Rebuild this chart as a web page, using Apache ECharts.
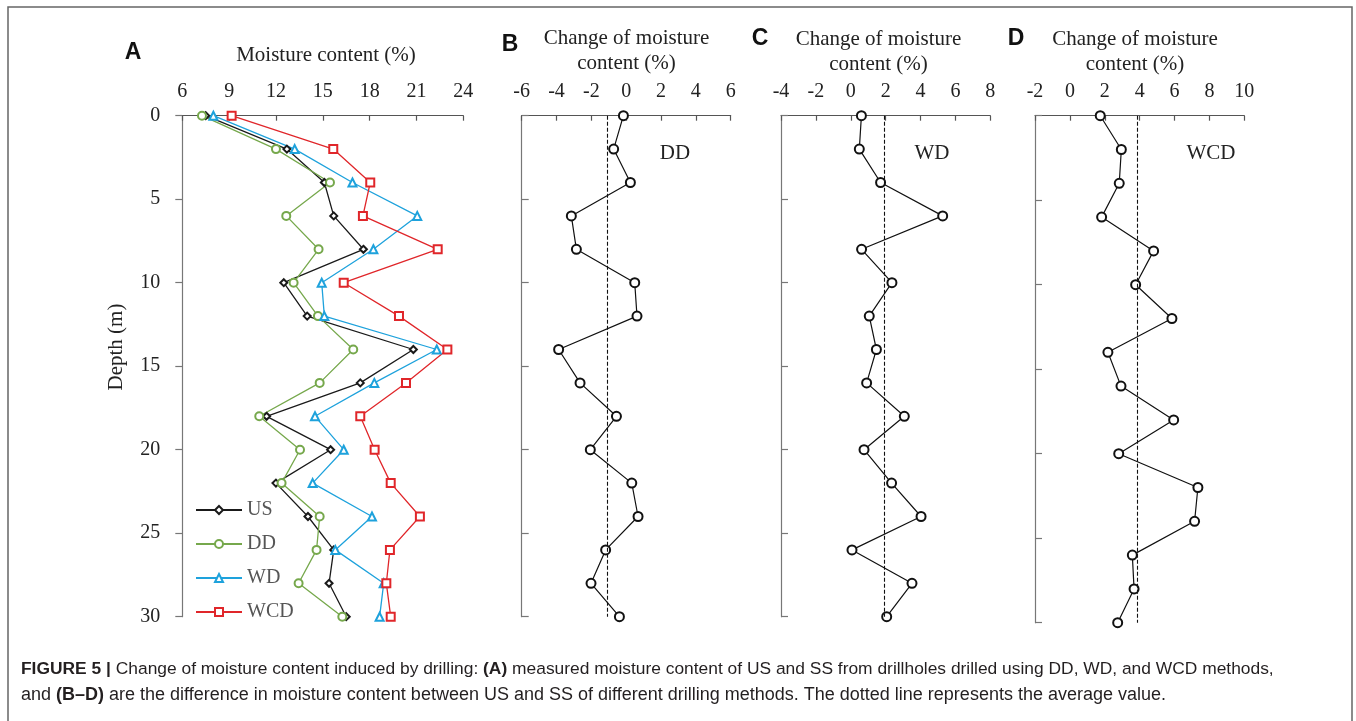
<!DOCTYPE html>
<html>
<head>
<meta charset="utf-8">
<script src="https://cdn.jsdelivr.net/npm/echarts@6/dist/echarts.min.js"></script>
<style>
html,body{margin:0;padding:0;background:#fff;}
#c{width:1356px;height:721px;}
</style>
</head>
<body>
<div id="c"></div>
<script>
// ---- data ----
const depth = [0, 2, 4, 6, 8, 10, 12, 14, 16, 18, 20, 22, 24, 26, 28, 30];
const usA  = [7.5, 12.7, 15.1, 15.7, 17.6, 12.5, 14.0, 20.8, 17.4, 11.4, 15.5, 12.0, 14.05, 15.7, 15.4, 16.5];
const ddA  = [7.26, 12.0, 15.46, 12.66, 14.73, 13.13, 14.69, 16.95, 14.8, 10.93, 13.54, 12.36, 14.8, 14.6, 13.45, 16.25];
const wdA  = [7.99, 13.2, 16.9, 21.05, 18.24, 14.93, 15.1, 22.3, 18.3, 14.5, 16.34, 14.35, 18.15, 15.8, 18.9, 18.64];
const wcdA = [9.16, 15.67, 18.04, 17.57, 22.36, 16.34, 19.88, 22.98, 20.33, 17.4, 18.32, 19.35, 21.22, 19.3, 19.07, 19.35];
const ddChange  = [-0.16, -0.72, 0.24, -3.15, -2.86, 0.49, 0.62, -3.88, -2.65, -0.56, -2.06, 0.32, 0.68, -1.18, -2.02, -0.39];
const wdChange  = [0.61, 0.49, 1.71, 5.27, 0.62, 2.36, 1.06, 1.47, 0.91, 3.07, 0.76, 2.34, 4.03, 0.07, 3.51, 2.06];
const wcdChange = [1.74, 2.95, 2.83, 1.82, 4.80, 3.77, 5.85, 2.18, 2.93, 5.95, 2.80, 7.34, 7.15, 3.58, 3.68, 2.74];
const seriesNames = ['US', 'DD', 'WD', 'WCD'];
const xTicksA = {min: 6, max: 24, interval: 3};
const xTicksB = {min: -6, max: 6, interval: 2};
const xTicksC = {min: -4, max: 8, interval: 2};
const xTicksD = {min: -2, max: 10, interval: 2};
const depthTicks = {min: 0, max: 30, interval: 5};

const SERIF = '"Liberation Serif","Times New Roman",serif';
const SANS = '"Liberation Sans",Arial,sans-serif';
const AXC = '#555';

function pairs(vals){ return vals.map((v,i)=>[v, depth[i]]); }
function mean(a){ return a.reduce((s,v)=>s+v,0)/a.length; }

function xAxisCfg(idx, t){
  return {
    type:'value', gridIndex: idx, position:'top', min:t.min, max:t.max, interval:t.interval,
    axisLine:{show:true, lineStyle:{color:AXC, width:1.2}},
    axisTick:{show:true, inside:true, length:5, lineStyle:{color:AXC, width:1.2}},
    axisLabel:{show:true, margin:14, fontFamily:SERIF, fontSize:20, color:'#222'},
    splitLine:{show:false}
  };
}
function yAxisCfg(idx, showLabels){
  return {
    type:'value', gridIndex: idx, inverse:true, min:depthTicks.min, max:depthTicks.max, interval:depthTicks.interval,
    axisLine:{show:true, onZero:false, lineStyle:{color:'#777', width:1.2}},
    axisTick:{show:true, inside:!showLabels, length:7, lineStyle:{color:'#777', width:1.2}},
    axisLabel:{show:showLabels, margin:22, fontFamily:SERIF, fontSize:20, color:'#222'},
    splitLine:{show:false}
  };
}
function changeSeries(idx, vals){
  return {
    type:'line', xAxisIndex:idx, yAxisIndex:idx, data:pairs(vals),
    symbol:'emptyCircle', symbolSize:9, showSymbol:true,
    lineStyle:{color:'#111', width:1.2}, itemStyle:{color:'#111', borderWidth:1.2},
    animation:false, silent:true,
    markLine:{
      silent:true, symbol:'none', animation:false,
      label:{show:false},
      lineStyle:{color:'#111', type:[4,2], width:1.1},
      data:[{xAxis: mean(vals)}]
    }
  };
}

const chart = echarts.init(document.getElementById('c'), null, {renderer:'canvas'});
const option = {
  backgroundColor:'#fff',
  animation:false,
  grid:[
    {left:182.3, top:115.7, width:281, height:501},
    {left:521.7, top:115.7, width:209, height:501},
    {left:781,   top:115.7, width:209.3, height:501},
    {left:1035,  top:115.7, width:209.3, height:507}
  ],
  xAxis:[xAxisCfg(0,xTicksA), xAxisCfg(1,xTicksB), xAxisCfg(2,xTicksC), xAxisCfg(3,xTicksD)],
  yAxis:[yAxisCfg(0,true), yAxisCfg(1,false), yAxisCfg(2,false), yAxisCfg(3,false)],
  legend:{
    data:seriesNames, orient:'vertical', left:190, top:495,
    itemWidth:46, itemHeight:10, itemGap:14,
    textStyle:{fontFamily:SERIF, fontSize:20, color:'#555', lineHeight:20}
  },
  series:[
    {name:'US', type:'line', xAxisIndex:0, yAxisIndex:0, data:pairs(usA),
     symbol:'emptyDiamond', symbolSize:7, lineStyle:{color:'#1a1a1a', width:1.3}, itemStyle:{color:'#1a1a1a', borderWidth:1.3}},
    {name:'DD', type:'line', xAxisIndex:0, yAxisIndex:0, data:pairs(ddA),
     symbol:'emptyCircle', symbolSize:8, lineStyle:{color:'#76a84c', width:1.3}, itemStyle:{color:'#76a84c', borderWidth:1.3}},
    {name:'WD', type:'line', xAxisIndex:0, yAxisIndex:0, data:pairs(wdA),
     symbol:'emptyTriangle', symbolSize:8, lineStyle:{color:'#1ea2dc', width:1.3}, itemStyle:{color:'#1ea2dc', borderWidth:1.3}},
    {name:'WCD', type:'line', xAxisIndex:0, yAxisIndex:0, data:pairs(wcdA),
     symbol:'emptyRect', symbolSize:8, lineStyle:{color:'#e0262a', width:1.3}, itemStyle:{color:'#e0262a', borderWidth:1.3}},
    changeSeries(1, ddChange),
    changeSeries(2, wdChange),
    changeSeries(3, wcdChange)
  ],
  graphic:[
    {type:'rect', shape:{x:8, y:7, width:1344, height:760}, style:{fill:'none', stroke:'#666', lineWidth:1.5}, silent:true},
    {type:'text', x:133, y:53, style:{text:'A', font:'bold 23px '+SANS, fill:'#111', align:'center', verticalAlign:'middle'}},
    {type:'text', x:510, y:45, style:{text:'B', font:'bold 23px '+SANS, fill:'#111', align:'center', verticalAlign:'middle'}},
    {type:'text', x:760, y:39, style:{text:'C', font:'bold 23px '+SANS, fill:'#111', align:'center', verticalAlign:'middle'}},
    {type:'text', x:1016, y:39, style:{text:'D', font:'bold 23px '+SANS, fill:'#111', align:'center', verticalAlign:'middle'}},
    {type:'text', x:326, y:55, style:{text:'Moisture content (%)', font:'21px '+SERIF, fill:'#222', align:'center', verticalAlign:'middle'}},
    {type:'text', x:626.5, y:38.5, style:{text:'Change of moisture', font:'21px '+SERIF, fill:'#222', align:'center', verticalAlign:'middle'}},
    {type:'text', x:626.5, y:63.5, style:{text:'content (%)', font:'21px '+SERIF, fill:'#222', align:'center', verticalAlign:'middle'}},
    {type:'text', x:878.5, y:39, style:{text:'Change of moisture', font:'21px '+SERIF, fill:'#222', align:'center', verticalAlign:'middle'}},
    {type:'text', x:878.5, y:64, style:{text:'content (%)', font:'21px '+SERIF, fill:'#222', align:'center', verticalAlign:'middle'}},
    {type:'text', x:1135, y:39, style:{text:'Change of moisture', font:'21px '+SERIF, fill:'#222', align:'center', verticalAlign:'middle'}},
    {type:'text', x:1135, y:64, style:{text:'content (%)', font:'21px '+SERIF, fill:'#222', align:'center', verticalAlign:'middle'}},
    {type:'text', x:675, y:153, style:{text:'DD', font:'21px '+SERIF, fill:'#222', align:'center', verticalAlign:'middle'}},
    {type:'text', x:932, y:153, style:{text:'WD', font:'21px '+SERIF, fill:'#222', align:'center', verticalAlign:'middle'}},
    {type:'text', x:1211, y:153, style:{text:'WCD', font:'21px '+SERIF, fill:'#222', align:'center', verticalAlign:'middle'}},
    {type:'text', x:116, y:347, rotation:Math.PI/2, style:{text:'Depth (m)', font:'21px '+SERIF, fill:'#222', align:'center', verticalAlign:'middle'}},
    {type:'text', x:21, y:669, style:{
      text:'{b|FIGURE 5 |} Change of moisture content induced by drilling: {b|(A)} measured moisture content of US and SS from drillholes drilled using DD, WD, and WCD methods,',
      font:'17.4px '+SANS, fill:'#231f20', verticalAlign:'middle',
      rich:{b:{fontFamily:SANS, fontWeight:'bold', fontSize:17.4, fill:'#231f20'}}
    }},
    {type:'text', x:21, y:695, style:{
      text:'and {b|(B–D)} are the difference in moisture content between US and SS of different drilling methods. The dotted line represents the average value.',
      font:'18px '+SANS, fill:'#231f20', verticalAlign:'middle',
      rich:{b:{fontFamily:SANS, fontWeight:'bold', fontSize:18, fill:'#231f20'}}
    }}
  ]
};
chart.setOption(option);
</script>
</body>
</html>
